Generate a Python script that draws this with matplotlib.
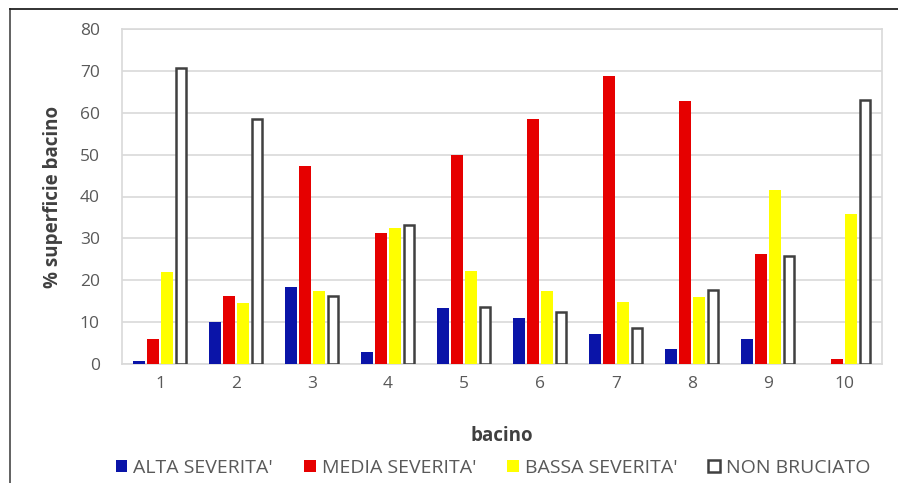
import matplotlib.pyplot as plt
import numpy as np
from matplotlib.lines import Line2D
from matplotlib.patches import Patch

bacino = ['1', '2', '3', '4', '5', '6', '7', '8', '9', '10']
alta = [0.7, 10.0, 18.4, 2.9, 13.3, 11.1, 7.2, 3.5, 5.9, 0.0]
media = [6.0, 16.2, 47.3, 31.2, 50.0, 58.5, 68.7, 62.7, 26.3, 1.1]
bassa = [22.0, 14.6, 17.5, 32.4, 22.3, 17.4, 14.9, 15.9, 41.5, 35.8]
non_bruciato = [70.8, 58.5, 16.2, 33.1, 13.7, 12.5, 8.7, 17.6, 25.9, 63.0]

plt.rcParams['font.family'] = ['Open Sans', 'DejaVu Sans']

fig = plt.figure(figsize=(8.98, 4.83), dpi=100)
ax = fig.add_axes([122/898, 1 - 364/483, 760/898, 335/483])

x = np.arange(1, 11)
w = 0.155
step = 0.184
ax.bar(x - 1.5*step, alta, w, color='#0a14a8', zorder=3)
ax.bar(x - 0.5*step, media, w, color='#e60000', zorder=3)
ax.bar(x + 0.5*step, bassa, w, color='#ffff00', zorder=3)
ax.bar(x + 1.5*step, non_bruciato, w - 0.02, color='white', edgecolor='#404040',
       linewidth=1.8, zorder=3)

ax.set_xlim(0.5, 10.5)
ax.set_ylim(0, 80)
ax.set_yticks(range(0, 81, 10))
ax.set_xticks(x)
ax.set_xticklabels(bacino)
ax.grid(axis='y', color='#d9d9d9', linewidth=1.2, zorder=0)
for s in ax.spines.values():
    s.set_color('#d9d9d9')
    s.set_linewidth(1.2)
ax.tick_params(length=0, labelsize=12.5, labelcolor='#595959', pad=9)
ax.tick_params(axis='y', pad=16)

ax.set_ylabel('% superficie bacino', fontsize=13.5, fontweight='bold', color='#404040', labelpad=12)
ax.set_xlabel('bacino', fontsize=13.5, fontweight='bold', color='#404040', labelpad=24)

handles = [Patch(facecolor='#0a14a8'), Patch(facecolor='#e60000'),
           Patch(facecolor='#ffff00'), Patch(facecolor='white', edgecolor='#404040', linewidth=1.8)]
labels = ["ALTA SEVERITA'", "MEDIA SEVERITA'", "BASSA SEVERITA'", 'NON BRUCIATO']
fig.legend(handles, labels, loc='center', bbox_to_anchor=(493/898, 1 - 468/483), ncol=4,
           frameon=False, fontsize=14, labelcolor='#595959', handlelength=0.6, handleheight=0.6,
           handletextpad=0.3, columnspacing=1.6)

# outer frame (left and top edges)
fig.add_artist(Line2D([9.5/898, 9.5/898], [0, 1 - 9/483], color='#555555', linewidth=1.3))
fig.add_artist(Line2D([9.5/898, 1], [1 - 9/483, 1 - 9/483], color='#222222', linewidth=1.3))

fig.savefig('out.png', dpi=100)
